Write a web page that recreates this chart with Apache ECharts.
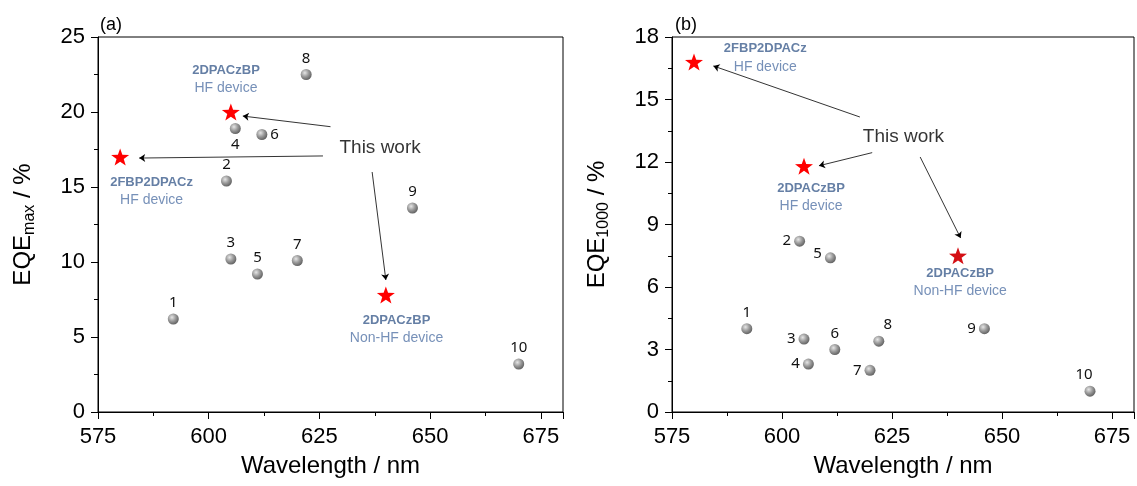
<!DOCTYPE html>
<html>
<head>
<meta charset="utf-8">
<script src="https://cdn.jsdelivr.net/npm/echarts@6/dist/echarts.min.js"></script>
<style>
  html, body { margin: 0; padding: 0; background: #fff; }
  #chart { width: 1137px; height: 486px; }
</style>
</head>
<body>
<div id="chart"></div>
<script>
// literature devices 1..10
const wavelength = [592, 604, 605, 606, 611, 612, 620, 622, 646, 670];
const eqeMax = [6.2, 15.4, 10.2, 18.9, 9.2, 18.5, 10.1, 22.5, 13.6, 3.2];
const eqe1000 = [4.0, 8.2, 3.5, 2.3, 7.4, 3.0, 2.0, 3.4, 4.0, 1.0];
const pointNames = ['1', '2', '3', '4', '5', '6', '7', '8', '9', '10'];

// this work (stars)
const starWavelength = [580, 605, 640];
const starEqeMax = [17.0, 20.0, 7.8];
const starEqe1000 = [16.8, 11.8, 7.5];

// axis ticks
const xTicks = [575, 600, 625, 650, 675];
const yTicksA = [0, 5, 10, 15, 20, 25];
const yTicksB = [0, 3, 6, 9, 12, 15, 18];

// annotations: [x, y, bold, normal]
const notesA = [
  [603.9, 22.2, '2DPACzBP', 'HF device'],
  [587.1, 14.7, '2FBP2DPACz', 'HF device'],
  [642.4, 5.53, '2DPACzBP', 'Non-HF device']
];
const notesB = [
  [596.2, 17.0, '2FBP2DPACz', 'HF device'],
  [606.6, 10.3, '2DPACzBP', 'HF device'],
  [640.5, 6.24, '2DPACzBP', 'Non-HF device']
];
const thisWorkA = [638.7, 17.6];
const thisWorkB = [627.6, 13.2];
// arrows: [x0, y0, x1, y1]
const arrowsA = [
  [627.5, 19.02, 607.7, 19.73],
  [625.8, 17.07, 584.3, 16.93],
  [636.9, 16.0, 640.0, 8.8]
];
const arrowsB = [
  [617.7, 14.16, 584.4, 16.61],
  [620.5, 12.45, 608.4, 11.82],
  [631.4, 12.24, 640.6, 8.35]
];

const labelPosA = ['top', 'top', 'top', 'bottom', 'top', 'right', 'top', 'top', 'top', 'top'];
const labelPosB = ['top', 'left', 'left', 'left', 'left', 'top', 'left', 'top', 'left', 'top'];
const labelOffB = [[0, 0], [0, 0], [0, 0], [0, 0], [0, -4], [0, 0], [0, 0], [9, 0], [0, 0], [-6, 0]];

const font = 'Liberation Sans, Arial, sans-serif';
const sphere = {
  type: 'radial', x: 0.38, y: 0.35, r: 0.7,
  colorStops: [
    { offset: 0, color: '#e6e6e6' },
    { offset: 0.5, color: '#9a9a9a' },
    { offset: 1, color: '#5c5c5c' }
  ]
};
const starPath = 'path://M0,-10L2.35,-3.24L9.51,-3.09L3.8,1.24L5.88,8.09L0,4L-5.88,8.09L-3.8,1.24L-9.51,-3.09L-2.35,-3.24Z';

function xAxisFor(gridIndex) {
  return {
    gridIndex: gridIndex,
    type: 'value',
    min: xTicks[0], max: 680, interval: 25,
    name: 'Wavelength / nm',
    nameLocation: 'middle', nameGap: 42,
    nameTextStyle: { fontSize: 24, color: '#000', fontFamily: font },
    axisLine: { show: true, lineStyle: { color: '#000', width: 1 } },
    axisTick: { show: true, length: 7, lineStyle: { color: '#000' } },
    minorTick: { show: true, splitNumber: 2, length: 4, lineStyle: { color: '#000' } },
    splitLine: { show: false },
    axisLabel: {
      fontSize: 22, color: '#000', fontFamily: font, margin: 14,
      formatter: v => (xTicks.indexOf(v) >= 0 ? String(v) : '')
    }
  };
}

function yAxisFor(gridIndex, ticks, sub) {
  return {
    gridIndex: gridIndex,
    type: 'value',
    min: 0, max: ticks[ticks.length - 1], interval: ticks[1] - ticks[0],
    name: '{m|EQE}{s|' + sub + '}{m| / %}',
    nameLocation: 'middle', nameGap: 60, nameRotate: 90,
    nameTextStyle: {
      color: '#000', fontFamily: font,
      rich: {
        m: { fontSize: 24, lineHeight: 30, fontFamily: font, color: '#000' },
        s: { fontSize: 16, lineHeight: 16, verticalAlign: 'bottom', fontFamily: font, color: '#000' }
      }
    },
    axisLine: { show: true, lineStyle: { color: '#000', width: 1 } },
    axisTick: { show: true, length: 7, lineStyle: { color: '#000' } },
    minorTick: { show: true, splitNumber: 2, length: 4, lineStyle: { color: '#000' } },
    splitLine: { show: false },
    axisLabel: { fontSize: 22, color: '#000', fontFamily: font, margin: 13 }
  };
}

function pointSeries(idx, ys, pos, offs) {
  return {
    type: 'scatter',
    xAxisIndex: idx, yAxisIndex: idx,
    symbol: 'circle', symbolSize: 11,
    itemStyle: { color: sphere, opacity: 1 },
    z: 3,
    data: wavelength.map((x, i) => ({
      name: pointNames[i],
      value: [x, ys[i]],
      label: { position: pos[i], offset: offs ? offs[i] : [0, 0] }
    })),
    label: {
      show: true, formatter: '{b}', distance: 3,
      fontSize: 15, color: '#111', fontFamily: 'Noto Sans, sans-serif'
    }
  };
}

function starSeries(idx, ys, arrows, colors) {
  return {
    type: 'scatter',
    xAxisIndex: idx, yAxisIndex: idx,
    symbol: starPath, symbolSize: [18, 17],
    z: 4,
    data: starWavelength.map((x, i) => ({ value: [x, ys[i]], itemStyle: { color: colors[i], opacity: 1 } })),
    markLine: {
      silent: true, animation: false,
      symbol: ['none', 'arrow'], symbolSize: 6,
      lineStyle: { color: '#000', width: 0.8, type: 'solid', opacity: 1 },
      label: { show: false },
      emphasis: { disabled: true },
      data: arrows.map(a => [{ coord: [a[0], a[1]] }, { coord: [a[2], a[3]] }])
    }
  };
}

function noteSeries(idx, notes, work) {
  const data = notes.map(n => ({ value: [n[0], n[1]], name: '{b|' + n[2] + '}\n{n|' + n[3] + '}' }));
  data.push({ value: work, name: '{w|This work}' });
  return {
    type: 'scatter',
    xAxisIndex: idx, yAxisIndex: idx,
    symbolSize: 0, silent: true, z: 5,
    data: data,
    label: {
      show: true, position: 'inside', formatter: '{b}',
      rich: {
        b: { fontSize: 13, fontWeight: 'bold', color: '#3e5f8f', fontFamily: font, lineHeight: 18, align: 'center' },
        n: { fontSize: 14, color: '#5474a6', fontFamily: font, lineHeight: 18, align: 'center' },
        w: { fontSize: 19, color: '#000', fontFamily: font }
      }
    }
  };
}

const chart = echarts.init(document.getElementById('chart'));
chart.setOption({
  animation: false,
  backgroundColor: '#fff',
  title: [
    { text: '(a)', left: 95, top: 11, textStyle: { fontSize: 18, fontWeight: 'normal', color: '#000', fontFamily: font } },
    { text: '(b)', left: 670, top: 11, textStyle: { fontSize: 18, fontWeight: 'normal', color: '#000', fontFamily: font } }
  ],
  grid: [
    { left: 98, top: 37, width: 465, height: 375, show: true, borderColor: '#000', borderWidth: 1 },
    { left: 672, top: 37, width: 464, height: 375, show: true, borderColor: '#000', borderWidth: 1 }
  ],
  xAxis: [xAxisFor(0), xAxisFor(1)],
  yAxis: [yAxisFor(0, yTicksA, 'max'), yAxisFor(1, yTicksB, '1000')],
  series: [
    pointSeries(0, eqeMax, labelPosA),
    starSeries(0, starEqeMax, arrowsA, ['#ff0000', '#ff0000', '#ff0000']),
    noteSeries(0, notesA, thisWorkA),
    pointSeries(1, eqe1000, labelPosB, labelOffB),
    starSeries(1, starEqe1000, arrowsB, ['#ff0000', '#ff0000', '#d40f14']),
    noteSeries(1, notesB, thisWorkB)
  ]
});
</script>
</body>
</html>
